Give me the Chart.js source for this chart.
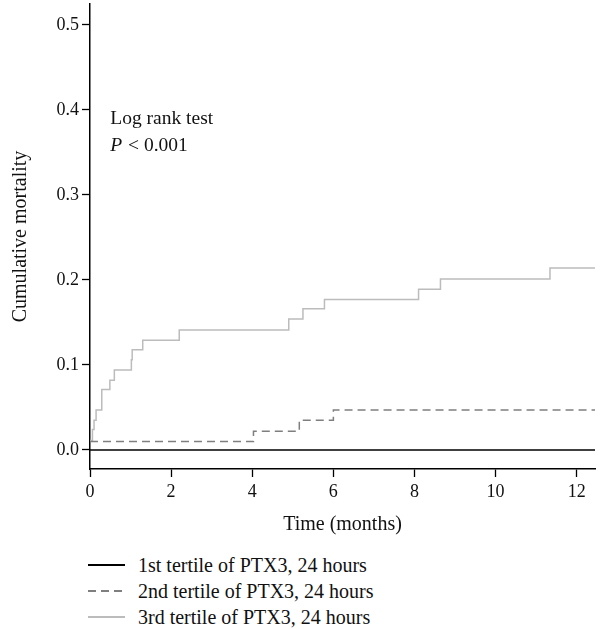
<!DOCTYPE html>
<html>
<head>
<meta charset="utf-8">
<script src="https://cdn.jsdelivr.net/npm/chart.js@4/dist/chart.umd.min.js"></script>
<style>
  body { margin: 0; background: #fff; }
  #wrap { position: relative; width: 613px; height: 629px; font-family: "Liberation Serif", "DejaVu Serif", serif; }
  #km { position: absolute; left: 0; top: 0; }
  #legend { position: absolute; left: 88px; top: 552px; font-size: 20px; color: #111; }
  .row { height: 26px; line-height: 26px; display: flex; align-items: center; }
  .swatch { width: 37px; height: 1.5px; margin-right: 13px; }
</style>
</head>
<body>
<div id="wrap">
  <canvas id="km" width="613" height="545"></canvas>
  <div id="legend"></div>
</div>
<script>
// Kaplan-Meier data (time in months, cumulative mortality)
var seriesNames = ['1st tertile of PTX3, 24 hours', '2nd tertile of PTX3, 24 hours', '3rd tertile of PTX3, 24 hours'];

var times1 = [0, 12.45];
var mort1 = [0, 0];

var times2 = [0, 4.03, 5.16, 6.0, 12.45];
var mort2 = [0.010, 0.022, 0.035, 0.047, 0.047];

var times3 = [0, 0.06, 0.10, 0.15, 0.29, 0.49, 0.60, 1.02, 1.04, 1.30, 2.20, 4.90, 5.25, 5.78, 8.10, 8.64, 11.34, 12.45];
var mort3 = [0.011, 0.024, 0.035, 0.047, 0.071, 0.082, 0.094, 0.106, 0.118, 0.129, 0.141, 0.154, 0.166, 0.177, 0.189, 0.201, 0.214, 0.214];

var xTicks = [0, 2, 4, 6, 8, 10, 12];
var yTicks = [0, 0.1, 0.2, 0.3, 0.4, 0.5];

var colors = ['#000000', '#7f7f7f', '#bcbcbc'];
var dashes = [[], [8, 5], []];

function pts(t, v) {
  return t.map(function(d, i) { return {x: d, y: v[i]}; });
}

var serif = '"Liberation Serif", "DejaVu Serif", serif';

// "Log rank test / P < 0.001" note inside the plot
var notePlugin = {
  id: 'note',
  afterDatasetsDraw: function(chart) {
    var ctx = chart.ctx;
    var x = chart.scales.x.getPixelForValue(0.5);
    var y1 = chart.scales.y.getPixelForValue(0.389);
    var y2 = chart.scales.y.getPixelForValue(0.358);
    ctx.save();
    ctx.fillStyle = '#111';
    ctx.textBaseline = 'middle';
    ctx.font = '19.5px ' + serif;
    ctx.fillText('Log rank test', x, y1);
    ctx.font = 'italic 19.5px ' + serif;
    ctx.fillText('P', x, y2);
    var w = ctx.measureText('P').width;
    ctx.font = '19.5px ' + serif;
    ctx.fillText(' < 0.001', x + w + 1, y2);
    ctx.restore();
  }
};

var datasets = [pts(times1, mort1), pts(times2, mort2), pts(times3, mort3)].map(function(d, i) {
  return {
    label: seriesNames[i],
    data: d,
    borderColor: colors[i],
    borderWidth: 1.5,
    borderDash: dashes[i],
    pointRadius: 0,
    stepped: 'before',
    fill: false
  };
});

Chart.defaults.font.family = serif;
Chart.defaults.color = '#111';

new Chart('km', {
  type: 'line',
  data: { datasets: datasets },
  options: {
    responsive: false,
    animation: false,
    layout: { padding: { top: 4, right: 18, left: 0, bottom: 0 } },
    plugins: { legend: { display: false }, tooltip: { enabled: false } },
    scales: {
      x: {
        type: 'linear',
        min: 0,
        max: 12.45,
        afterBuildTicks: function(s) { s.ticks = xTicks.map(function(v) { return {value: v}; }); },
        afterFit: function(s) { s.height = 76; s.paddingLeft = 0; s.paddingRight = 0; },
        ticks: { font: { size: 18 }, padding: 4, maxRotation: 0, color: '#111' },
        grid: { drawOnChartArea: false, tickLength: 8, color: '#000', tickWidth: 1.3 },
        border: { color: '#000', width: 1.5 },
        title: { display: true, text: 'Time (months)', font: { size: 20 }, padding: { top: 0, bottom: 8 }, color: '#111' }
      },
      y: {
        min: -0.0224,
        max: 0.5247,
        afterBuildTicks: function(s) { s.ticks = yTicks.map(function(v) { return {value: v}; }); },
        // 0.5 is not at the top edge, so the label needs no extra room above the axis
        afterFit: function(s) { s.width = 90; s.paddingTop = 0; s.paddingBottom = 0; },
        ticks: { font: { size: 18 }, padding: 3, color: '#111', callback: function(v) { return v.toFixed(1); } },
        grid: { drawOnChartArea: false, tickLength: 8, color: '#000', tickWidth: 1.3 },
        border: { color: '#000', width: 1.5 },
        title: { display: true, text: 'Cumulative mortality', font: { size: 20 }, padding: { top: 9, bottom: 0 }, color: '#111' }
      }
    }
  },
  plugins: [notePlugin]
});

// legend as plain html rows, swatches styled like the lines
var legend = document.getElementById('legend');
seriesNames.forEach(function(name, i) {
  var row = document.createElement('div');
  row.className = 'row';
  var sw = document.createElement('span');
  sw.className = 'swatch';
  if (dashes[i].length) {
    sw.style.background = 'repeating-linear-gradient(to right, ' + colors[i] + ' 0 ' + dashes[i][0] + 'px, transparent ' +
      dashes[i][0] + 'px ' + (dashes[i][0] + dashes[i][1]) + 'px)';
  } else {
    sw.style.background = colors[i];
  }
  var txt = document.createElement('span');
  txt.textContent = name;
  row.appendChild(sw);
  row.appendChild(txt);
  legend.appendChild(row);
});
</script>
</body>
</html>
